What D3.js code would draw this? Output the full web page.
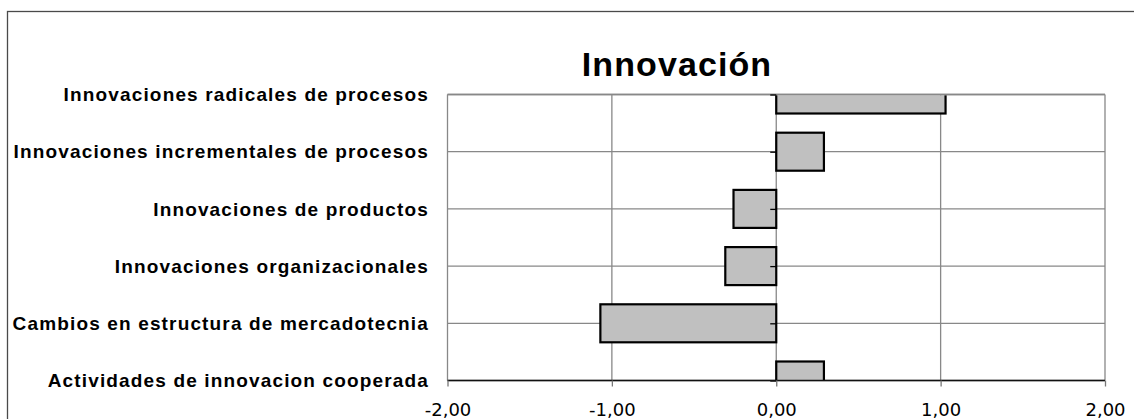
<!DOCTYPE html>
<html><head><meta charset="utf-8">
<script src="https://cdn.jsdelivr.net/npm/d3@7"></script>
<style>html,body{margin:0;padding:0;background:#fff;overflow:hidden}</style>
</head><body>
<svg id="c" width="1134" height="419"></svg>
<script>
const categories = [
  "Innovaciones radicales de procesos",
  "Innovaciones incrementales de procesos",
  "Innovaciones de productos",
  "Innovaciones organizacionales",
  "Cambios en estructura de mercadotecnia",
  "Actividades de innovacion cooperada"
];
const values = [1.03, 0.29, -0.26, -0.31, -1.07, 0.29];
const xTicks = [-2, -1, 0, 1, 2];
const title = "Innovación";

const svg = d3.select("#c");
const L = 447.5, R = 1105, T = 94.5, B = 380.5;
const x = d3.scaleLinear().domain([-2, 2]).range([L, R]);
const y = d3.scalePoint().domain(categories).range([T, B]);
const barH = 38;
const fmt = d => d3.format(".2f")(d).replace(".", ",").replace("\u2212", "-");

// outer chart border
svg.append("rect").attr("x", 7.5).attr("y", 11.5).attr("width", 1200).attr("height", 500)
  .attr("fill", "none").attr("stroke", "#4a4a4a").attr("stroke-width", 1.3);

// title
svg.append("text").attr("x", 677).attr("y", 76).attr("text-anchor", "middle")
  .attr("font-family", "Liberation Sans, Arial, sans-serif").attr("font-weight", "bold")
  .attr("font-size", 34).attr("letter-spacing", 1.1).text(title);

// gridlines
const grid = svg.append("g").attr("stroke", "#888").attr("stroke-width", 1.3);
categories.forEach(c => grid.append("line").attr("x1", L).attr("x2", R).attr("y1", y(c)).attr("y2", y(c)));
xTicks.forEach(t => grid.append("line").attr("x1", x(t)).attr("x2", x(t)).attr("y1", T).attr("y2", B));

// clip
svg.append("clipPath").attr("id", "pc").append("rect")
  .attr("x", L).attr("y", T + 0.8).attr("width", R - L).attr("height", B - T - 0.8);

// bars
svg.append("g").attr("clip-path", "url(#pc)").selectAll("rect").data(categories).join("rect")
  .attr("x", (c, i) => x(Math.min(0, values[i])))
  .attr("width", (c, i) => Math.abs(x(values[i]) - x(0)))
  .attr("y", c => y(c) - barH / 2).attr("height", barH)
  .attr("fill", "#c0c0c0").attr("stroke", "#000").attr("stroke-width", 2.2);

// top plot border redraw
svg.append("line").attr("x1", L).attr("x2", R).attr("y1", T).attr("y2", T)
  .attr("stroke", "#888").attr("stroke-width", 1.3);

// y axis ticks at zero
const yAxis = d3.axisLeft(y).tickSize(6).tickFormat("");
const ya = svg.append("g").attr("transform", `translate(${x(0)},0)`).call(yAxis);
ya.select(".domain").remove();
ya.selectAll(".tick line").attr("stroke", "#000").attr("stroke-width", 1.3);

// category labels
svg.append("g").selectAll("text").data(categories).join("text")
  .attr("x", 429).attr("y", c => y(c) + 6.6).attr("text-anchor", "end")
  .attr("font-family", "Liberation Sans, Arial, sans-serif").attr("font-weight", "bold")
  .attr("font-size", 19).attr("letter-spacing", 1.15).attr("fill", "#000").text(c => c);

// x axis
const xAxis = d3.axisBottom(x).tickValues(xTicks).tickSize(6).tickPadding(8).tickFormat(fmt);
const xa = svg.append("g").attr("transform", `translate(0,${B})`).call(xAxis);
xa.select(".domain").attr("stroke", "#111").attr("stroke-width", 1.6).attr("d", `M${L},0H${R}`);
xa.selectAll(".tick line").attr("stroke", "#777").attr("stroke-width", 1.3);
xa.selectAll(".tick text").attr("font-family", "DejaVu Sans, Verdana, sans-serif")
  .attr("font-size", 18).attr("fill", "#000").attr("dy", 0).attr("y", 35.5);
</script>
</body></html>
